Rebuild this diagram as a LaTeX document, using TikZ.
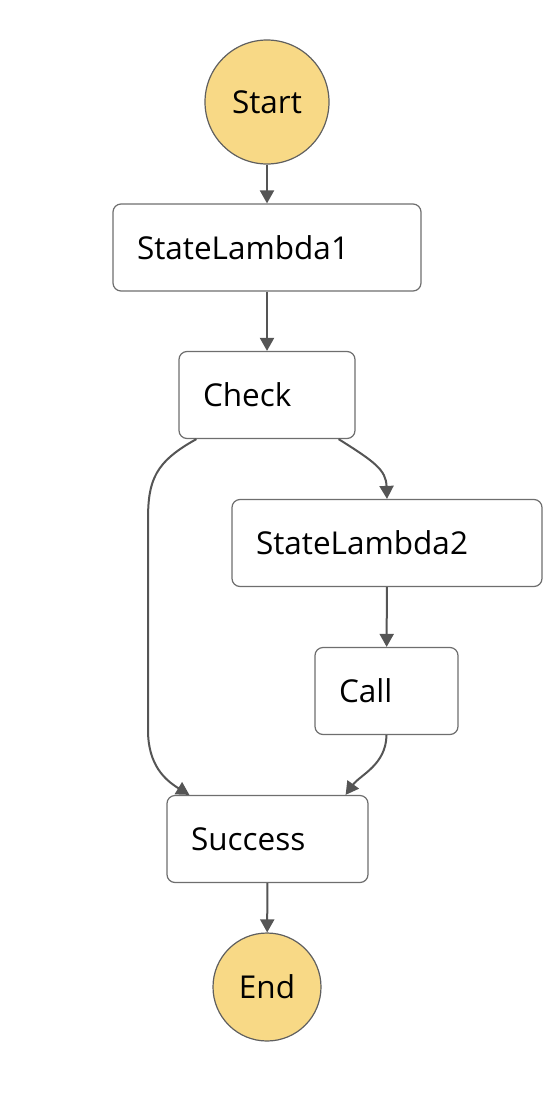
\documentclass[tikz,border=0pt]{standalone}
\usepackage{fontspec}
\setmainfont{Open Sans}
\usepackage{xcolor}
\usepackage{tikz}
\usetikzlibrary{positioning,arrows.meta}
\definecolor{termfill}{RGB}{248,217,134}
\definecolor{termdraw}{RGB}{95,95,95}
\definecolor{boxdraw}{RGB}{110,110,110}
\definecolor{edgegray}{RGB}{85,85,85}
\tikzset{
  termnode/.style  = {circle, inner sep=0pt, fill=termfill, draw=termdraw,
                      line width=1.2pt, font=\fontsize{31.5}{36}\selectfont},
  statenode/.style = {rectangle, rounded corners=8pt, fill=white, draw=boxdraw,
                      line width=1.2pt, inner xsep=24pt, minimum height=87pt,
                      align=left, font=\fontsize{31.5}{36}\selectfont},
  flowedge/.style  = {-{Triangle[length=13pt,width=14pt]}, line width=2pt, edgegray}
}

\begin{document}
\begin{tikzpicture}[x=1pt, y=-1pt]
  \useasboundingbox (0,0) rectangle (556,1114);
  % Terminals
  \node[termnode, minimum size=124pt] (start) at (267,102)  {Start};
  \node[termnode, minimum size=108pt] (end)   at (267,987)  {End};
  % States
  \node[statenode, text width=260pt] (lam1)    at (267,247.5) {StateLambda1};
  \node[statenode, text width=128pt] (check)   at (267,395)   {Check};
  \node[statenode, text width=262pt] (lam2)    at (387,543)   {StateLambda2};
  \node[statenode, text width=95pt]  (call)    at (386.5,691) {Call};
  \node[statenode, text width=153pt] (success) at (267.5,839) {Success};
  % Edges
  \draw[flowedge] (start) -- (lam1);
  \draw[flowedge] (lam1) -- (check);
  \draw[flowedge] ([xshift=18pt]check.south west)
    .. controls (155,462) and (148,480) .. (148,520) -- (148,730)
    .. controls (148,765) and (165,780) .. ([xshift=23pt]success.north west);
  \draw[flowedge] ([xshift=-17pt]check.south east)
    .. controls (375,462) and (386,470) .. (lam2.north);
  \draw[flowedge] (lam2) -- (call);
  \draw[flowedge] (call.south)
    .. controls (386,765) and (360,775) .. ([xshift=-23pt]success.north east);
  \draw[flowedge] (success) -- (end);
\end{tikzpicture}
\end{document}
